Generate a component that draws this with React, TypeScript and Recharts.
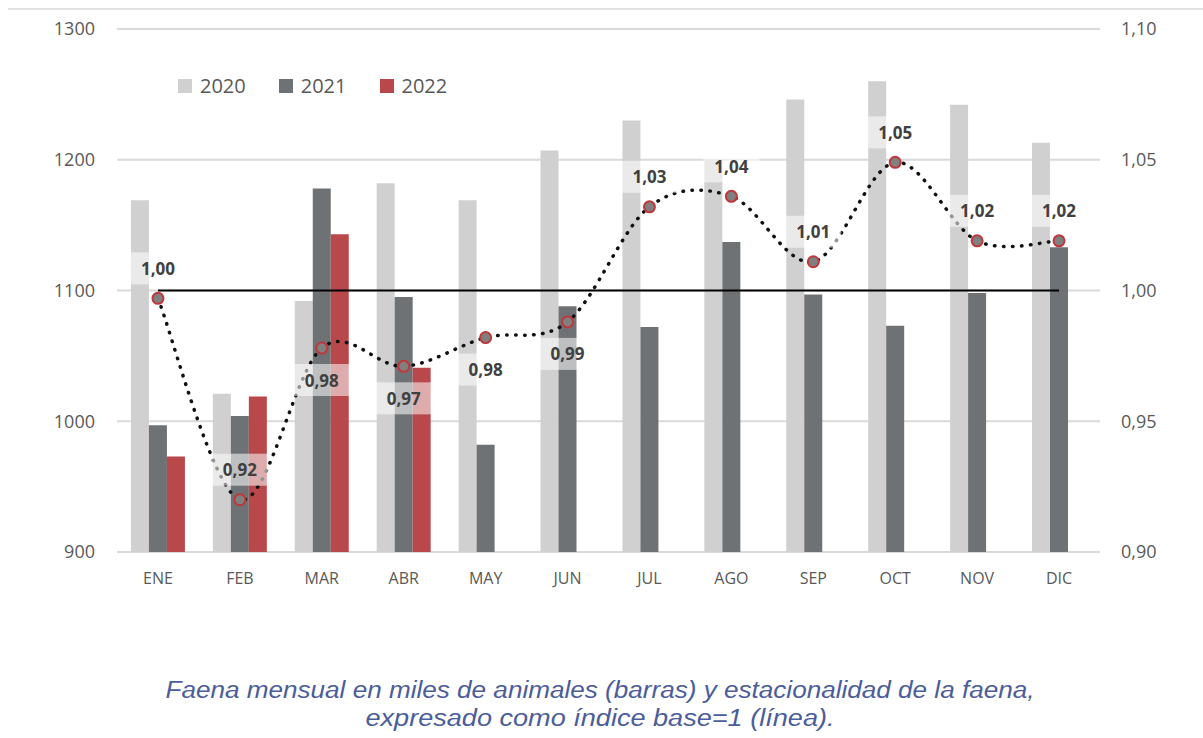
import { ComposedChart, Bar, Line, XAxis, YAxis, CartesianGrid, LabelList } from 'recharts';

// Monthly slaughter (thousand head) and seasonal index
const MONTHS = ['ENE', 'FEB', 'MAR', 'ABR', 'MAY', 'JUN', 'JUL', 'AGO', 'SEP', 'OCT', 'NOV', 'DIC'];
const FAENA_2020 = [1169, 1021, 1092, 1182, 1169, 1207, 1230, 1200, 1246, 1260, 1242, 1213];
const FAENA_2021 = [997, 1004, 1178, 1095, 982, 1088, 1072, 1137, 1097, 1073, 1098, 1133];
const FAENA_2022 = [973, 1019, 1143, 1041, null, null, null, null, null, null, null, null];
const INDICE = [0.997, 0.92, 0.978, 0.971, 0.982, 0.988, 1.032, 1.036, 1.011, 1.049, 1.019, 1.019];
const BASE = 1;
const LEFT_TICKS = [900, 1000, 1100, 1200, 1300];
const RIGHT_TICKS = [0.9, 0.95, 1.0, 1.05, 1.1];
const SERIES = ['2020', '2021', '2022'];
const CAPTION = [
  'Faena mensual en miles de animales (barras) y estacionalidad de la faena,',
  'expresado como índice base=1 (línea).',
];

const COLORS = ['#d0d0d0', '#6f7274', '#b9484a'];
const LABELS_BELOW = new Set(['MAR', 'ABR', 'MAY', 'JUN']);

const data = MONTHS.map((m, i) => ({
  month: m,
  y2020: FAENA_2020[i],
  y2021: FAENA_2021[i],
  y2022: FAENA_2022[i],
  indice: INDICE[i],
  base: BASE,
}));

const fmt = (v: number) => v.toFixed(2).replace('.', ',');

// Excel-style smoothed line (Catmull-Rom through the points)
const excelSmooth = (context: any) => {
  let pts: number[][] = [];
  return {
    areaStart() {},
    areaEnd() {},
    lineStart() {
      pts = [];
    },
    point(x: number, y: number) {
      pts.push([+x, +y]);
    },
    lineEnd() {
      if (!pts.length) return;
      context.moveTo(pts[0][0], pts[0][1]);
      for (let i = 0; i < pts.length - 1; i++) {
        const p0 = pts[i - 1] || pts[i];
        const p1 = pts[i];
        const p2 = pts[i + 1];
        const p3 = pts[i + 2] || p2;
        context.bezierCurveTo(
          p1[0] + (p2[0] - p0[0]) / 6,
          p1[1] + (p2[1] - p0[1]) / 6,
          p2[0] - (p3[0] - p1[0]) / 6,
          p2[1] - (p3[1] - p1[1]) / 6,
          p2[0],
          p2[1],
        );
      }
    },
  };
};

const IndexLabel = (props: any) => {
  const { x, y, value, index } = props;
  const below = LABELS_BELOW.has(MONTHS[index]);
  const cy = below ? y + 32 : y - 30;
  return (
    <g>
      <rect x={x - 28} y={cy - 16} width={56} height={32} fill="rgba(255,255,255,0.55)" />
      <text x={x} y={cy} textAnchor="middle" dominantBaseline="central"
        fontFamily="'Open Sans', sans-serif" fontWeight={700} fontSize={17} fill="#404040">
        {fmt(value)}
      </text>
    </g>
  );
};

const IndexDot = (props: any) => {
  const { cx, cy } = props;
  return <circle cx={cx} cy={cy} r={5.5} fill="#808080" stroke="#c0373a" strokeWidth={2} />;
};

export default function App() {
  return (
    <div style={{ position: 'absolute', left: 0, top: 0, width: 1203, height: 738, background: '#fff' }}>
      <div style={{ position: 'absolute', left: 8, top: 8, width: 1195, height: 2, background: '#e2e2e2' }} />
      <ComposedChart
        width={1203}
        height={620}
        data={data}
        margin={{ top: 29, right: 0, bottom: 38, left: 0 }}
        barGap={0}
        barCategoryGap="17%"
      >
        <CartesianGrid yAxisId="left" vertical={false} stroke="#d9d9d9" strokeWidth={2} />
        <XAxis
          dataKey="month"
          height={30}
          axisLine={false}
          tickLine={false}
          tickMargin={15}
          tick={{ fill: '#595959', fontSize: 16, fontFamily: "'Open Sans', sans-serif" }}
        />
        <YAxis
          yAxisId="left"
          width={117}
          domain={[900, 1300]}
          ticks={LEFT_TICKS}
          axisLine={false}
          tickLine={false}
          tickMargin={16}
          tick={{ fill: '#595959', fontSize: 18, fontFamily: "'Open Sans', sans-serif" }}
        />
        <YAxis
          yAxisId="right"
          orientation="right"
          width={103}
          domain={[0.9, 1.1]}
          ticks={RIGHT_TICKS}
          axisLine={false}
          tickLine={false}
          tickMargin={15}
          tickFormatter={fmt}
          tick={{ fill: '#595959', fontSize: 18, fontFamily: "'Open Sans', sans-serif" }}
        />
        <Bar yAxisId="left" dataKey="y2020" name="2020" fill={COLORS[0]} isAnimationActive={false} />
        <Bar yAxisId="left" dataKey="y2021" name="2021" fill={COLORS[1]} isAnimationActive={false} />
        <Bar yAxisId="left" dataKey="y2022" name="2022" fill={COLORS[2]} isAnimationActive={false} />
        <Line
          yAxisId="right"
          dataKey="base"
          stroke="#000"
          strokeWidth={2}
          dot={false}
          activeDot={false}
          isAnimationActive={false}
        />
        <Line
          yAxisId="right"
          type={excelSmooth as any}
          dataKey="indice"
          stroke="#111"
          strokeWidth={3.5}
          strokeDasharray="0.5 8.5"
          strokeLinecap="round"
          dot={<IndexDot />}
          activeDot={false}
          isAnimationActive={false}
        >
          <LabelList dataKey="indice" content={<IndexLabel />} />
        </Line>
      </ComposedChart>

      {/* legend */}
      <div style={{ position: 'absolute', left: 178, top: 72, display: 'flex', alignItems: 'center', fontFamily: "'Open Sans', sans-serif", fontSize: 20, color: '#595959' }}>
        {SERIES.map((s, i) => (
          <div key={s} style={{ display: 'flex', alignItems: 'center', marginRight: 33 }}>
            <span style={{ width: 14, height: 14, background: COLORS[i], marginRight: 8, display: 'inline-block' }} />
            <span>{s}</span>
          </div>
        ))}
      </div>

      <svg style={{ position: 'absolute', left: 0, top: 660 }} width={1203} height={78}>
        {CAPTION.map((line, i) => (
          <text
            key={i}
            x={600}
            y={38 + i * 28}
            textAnchor="middle"
            fontFamily="'Liberation Sans', 'Noto Sans', sans-serif"
            fontStyle="italic"
            fontSize={23}
            fill="#4b5d9a"
            textLength={i === 0 ? 869 : 469}
            lengthAdjust="spacingAndGlyphs"
          >
            {line}
          </text>
        ))}
      </svg>
    </div>
  );
}
